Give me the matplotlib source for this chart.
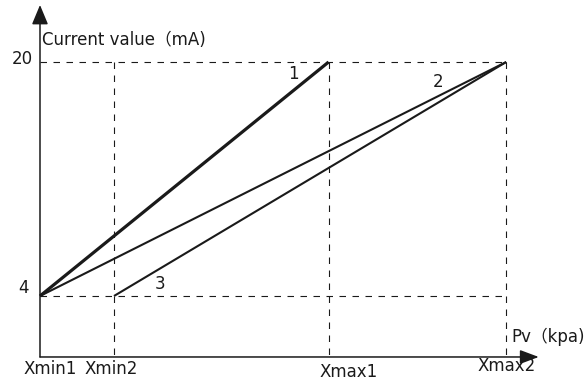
import matplotlib
matplotlib.use('Agg')
import matplotlib.pyplot as plt

plt.rcParams['font.family'] = ['DejaVu Sans', 'Noto Sans CJK SC']
plt.rcParams['lines.scale_dashes'] = False

# chart values
x_labels = ['Xmin1', 'Xmin2', 'Xmax1', 'Xmax2']
x_values = [0.0, 1.0, 3.9, 6.3]
y_labels = ['4', '20']
y_values = [4, 20]
line_names = ['1', '2', '3']
line_x = [[0.0, 3.9], [0.0, 6.3], [1.0, 6.3]]
line_y = [[4, 20], [4, 20], [4, 20]]
line_widths = [2.3, 1.5, 1.5]

PX = 0.72  # points per pixel at dpi 100
INK = '#1a1a1a'
FS = 12

fig = plt.figure(figsize=(5.87, 3.80), dpi=100)
ax = fig.add_axes([0, 0, 1, 1])
ax.axis('off')
ax.set_xlim(-0.5405, 7.392)
ax.set_ylim(-1.744, 24.24)

x_axis_y = -0.17
y_top = 23.9
x_right = 6.74

# guide lines
dash = (0, (6.5 * PX, 6.5 * PX))
for yv in y_values:
    ax.plot([x_values[0], x_values[-1]], [yv, yv], color=INK, lw=0.8, linestyle=dash)
for xv in x_values[1:]:
    ax.plot([xv, xv], [y_values[-1], x_axis_y], color=INK, lw=0.8, linestyle=dash)

# axes with arrows
ax.annotate('', xy=(0, y_top), xytext=(0, x_axis_y),
            arrowprops=dict(arrowstyle='-|>,head_length=1.2,head_width=0.5', mutation_scale=10,
                            lw=1.1, color=INK, shrinkA=0, shrinkB=0))
ax.annotate('', xy=(x_right, x_axis_y), xytext=(0, x_axis_y),
            arrowprops=dict(arrowstyle='-|>,head_length=1.15,head_width=0.43', mutation_scale=10,
                            lw=1.1, color=INK, shrinkA=0, shrinkB=0))

# the three characteristic lines
for xs, ys, lw in zip(line_x, line_y, line_widths):
    ax.plot(xs, ys, color=INK, lw=lw, solid_capstyle='butt')

# line numbers
label_anchor = [(line_x[0][1], line_y[0][1]), (line_x[1][1], line_y[1][1]), (line_x[2][0], line_y[2][0])]
label_offset = [(-35, -12), (-68, -20), (46, 12)]
for name, xy, off in zip(line_names, label_anchor, label_offset):
    ax.annotate(name, xy=xy, xytext=(off[0] * PX, off[1] * PX), textcoords='offset points',
                ha='center', va='center', fontsize=FS, color=INK)

# y labels
y_offsets = [(-16, 8), (-18, 3)]
for lab, yv, off in zip(y_labels, y_values, y_offsets):
    ax.annotate(lab, xy=(0, yv), xytext=(off[0] * PX, off[1] * PX), textcoords='offset points',
                ha='center', va='center', fontsize=FS, color=INK)

# x labels
x_offsets = [(10, -12), (-3, -12), (20, -15), (0, -9)]
for lab, xv, off in zip(x_labels, x_values, x_offsets):
    ax.annotate(lab, xy=(xv, x_axis_y), xytext=(off[0] * PX, off[1] * PX), textcoords='offset points',
                ha='center', va='center', fontsize=FS, color=INK)

ax.annotate('Current value（mA)', xy=(0, y_values[-1]), xytext=(2 * PX, 22 * PX),
            textcoords='offset points', ha='left', va='center', fontsize=FS, color=INK)
ax.annotate('Pv（kpa)', xy=(x_values[-1], x_axis_y), xytext=(5 * PX, 20 * PX),
            textcoords='offset points', ha='left', va='center', fontsize=FS, color=INK)

fig.savefig('out.png', dpi=100)
